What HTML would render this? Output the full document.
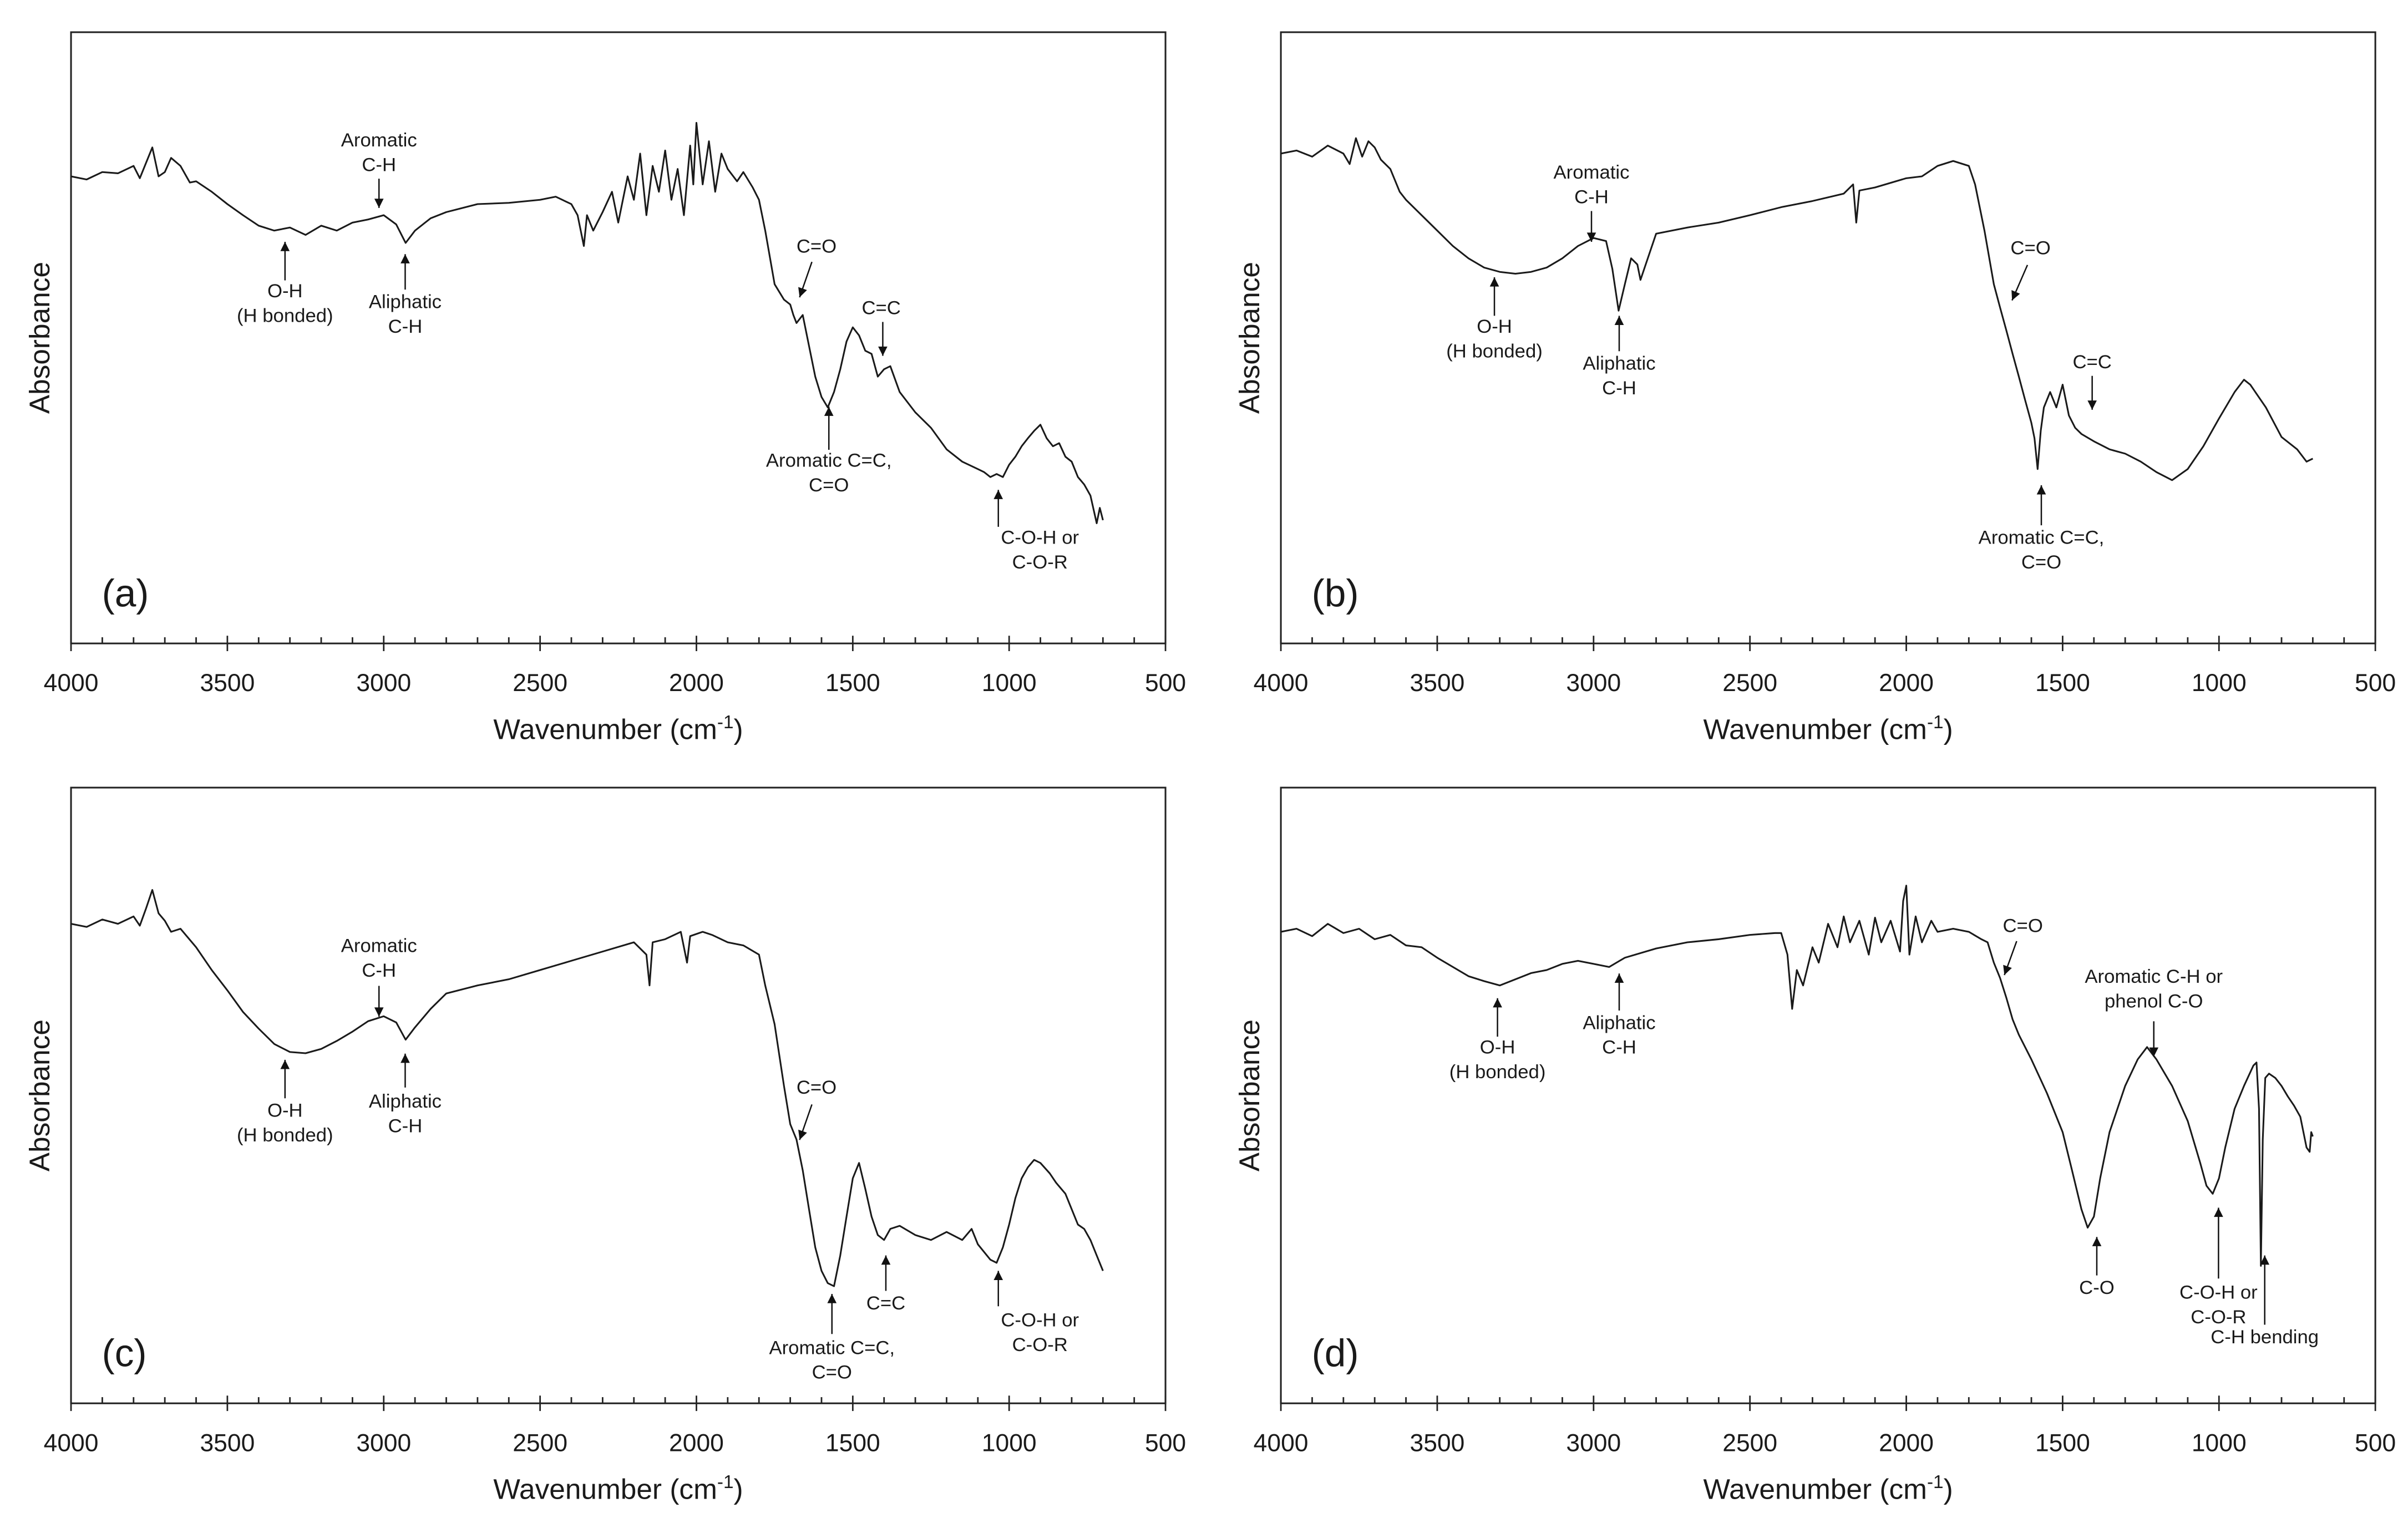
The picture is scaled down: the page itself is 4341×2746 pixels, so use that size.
<!DOCTYPE html>
<html><head><meta charset="utf-8">
<style>
html,body{margin:0;padding:0;background:#fff;}
svg{display:block;}
text{font-family:"Liberation Sans",Arial,sans-serif;fill:#1a1a1a;}
</style></head>
<body>
<svg id="fig" width="4341" height="2746" viewBox="0 0 1563 988.7" preserveAspectRatio="none" xmlns="http://www.w3.org/2000/svg"></svg>
<script>
// ---- data (wavenumber cm-1, absorbance a.u.) ----
const xTicks = [4000,3500,3000,2500,2000,1500,1000,500];
const aWn = [4000,3950,3900,3850,3800,3780,3760,3740,3720,3700,3680,3650,3620,3600,3550,3500,3450,3400,3350,3300,3250,3200,3150,3100,3050,3000,2960,2930,2900,2850,2800,2700,2600,2500,2450,2400,2380,2360,2350,2330,2300,2270,2250,2220,2200,2180,2160,2140,2120,2100,2080,2060,2040,2020,2010,2000,1980,1960,1940,1920,1900,1870,1850,1820,1800,1780,1750,1720,1700,1690,1680,1660,1640,1620,1600,1580,1560,1540,1520,1500,1480,1460,1440,1420,1400,1380,1350,1300,1250,1200,1150,1100,1080,1060,1040,1020,1000,980,960,940,920,900,880,860,840,820,800,780,760,740,720,710,700];
const aAbs = [75.8,75.3,76.5,76.3,77.5,75.5,78,80.5,75.8,76.5,78.8,77.5,74.8,75,73.3,71.3,69.5,67.8,67,67.5,66.3,67.8,67,68.3,68.8,69.5,68,65,67,69,70,71.3,71.5,72,72.5,71.3,69.5,64.5,69.5,67,70,73.3,68.3,75.8,72,79.5,69.5,77.5,73.3,80,72,77,69.5,80.8,74.5,84.5,74.5,81.5,73.3,79.5,77,75,76.5,74,72,67,58.3,55.8,55,53.3,52,53.3,48.3,43.3,40,38.3,40.8,44.5,49,51.3,50,47.5,47,43.3,44.5,45,40.8,37.5,35,31.5,29.5,28.3,27.8,27,27.5,27,29,30.3,32,33.3,34.5,35.5,33.3,32,32.5,30.3,29.5,27,25.8,24,19.5,22,20];
const bWn = [4000,3950,3900,3850,3800,3780,3760,3740,3720,3700,3680,3650,3620,3600,3550,3500,3450,3400,3350,3300,3250,3200,3150,3100,3050,3000,2960,2940,2920,2900,2880,2860,2850,2830,2800,2700,2600,2500,2400,2300,2200,2170,2160,2150,2100,2000,1950,1900,1850,1800,1780,1750,1720,1700,1680,1660,1640,1620,1600,1590,1580,1570,1560,1540,1520,1500,1480,1460,1440,1400,1350,1300,1250,1200,1150,1100,1050,1000,950,920,900,850,800,750,720,700];
const bAbs = [79.5,80,79,80.8,79.5,77.8,82,79,81.5,80.5,78.5,77,73.3,72,69.5,67,64.5,62.5,61,60.3,60,60.3,61,62.5,64.5,65.8,65.3,60.8,54,58.3,62.5,61.5,59,62,66.5,67.5,68.3,69.5,70.8,71.8,73,74.5,68.3,73.5,74,75.5,75.8,77.5,78.3,77.5,74.5,67,58.3,54.5,50.8,47,43.3,39.5,35.8,33.3,28.3,34.5,38.3,40.8,38.3,42,37,35,34,32.8,31.5,30.8,29.5,27.8,26.5,28.3,32,36.5,40.8,42.8,42,38.3,33.5,31.5,29.5,30];
const cWn = [4000,3950,3900,3850,3800,3780,3760,3740,3720,3700,3680,3650,3600,3550,3500,3450,3400,3350,3300,3250,3200,3150,3100,3050,3000,2960,2930,2900,2850,2800,2700,2600,2500,2400,2300,2200,2160,2150,2140,2100,2050,2030,2020,1980,1950,1900,1850,1800,1780,1750,1720,1700,1680,1660,1640,1620,1600,1580,1560,1540,1520,1500,1480,1460,1440,1420,1400,1380,1350,1300,1250,1200,1150,1120,1100,1060,1040,1020,1000,980,960,940,920,900,870,850,820,800,780,760,740,720,700];
const cAbs = [77.8,77.3,78.5,77.8,79,77.5,80.3,83.3,79.5,78.3,76.5,77,74,70.3,67,63.5,60.8,58.3,57,56.8,57.5,58.8,60.3,62,62.8,61.8,59,61,64,66.5,67.8,68.8,70.3,71.8,73.3,74.8,72.8,67.8,74.8,75.3,76.5,71.5,75.8,76.5,76,74.8,74.3,72.8,67.8,61.5,51.5,45.3,42.8,37.8,31.5,25.3,21.5,19.5,19,24,30.3,36.5,39,34.8,30.3,27.3,26.5,28.3,28.8,27.3,26.5,27.8,26.5,28.3,25.8,23.3,22.8,25.3,29,33.3,36.5,38.3,39.5,39,37.3,35.8,34,31.5,29,28.3,26.5,24,21.5];
const dWn = [4000,3950,3900,3850,3800,3750,3700,3650,3600,3550,3500,3450,3400,3350,3300,3250,3200,3150,3100,3050,3000,2950,2900,2800,2700,2600,2500,2420,2400,2380,2365,2350,2330,2300,2280,2250,2220,2200,2180,2150,2120,2100,2080,2050,2020,2010,2000,1990,1970,1950,1920,1900,1850,1800,1760,1740,1720,1700,1680,1660,1640,1600,1550,1500,1470,1440,1420,1400,1380,1350,1300,1260,1230,1200,1150,1100,1060,1040,1020,1000,980,950,920,890,880,872,866,860,852,840,820,800,780,760,740,720,710,705,700];
const dAbs = [76.5,77,75.8,77.8,76.3,77,75.3,76,74.3,74,72.3,70.8,69.3,68.5,67.8,68.8,69.8,70.3,71.3,71.8,71.3,70.8,72.3,73.8,74.8,75.3,76,76.3,76.3,72.8,64,70.3,67.8,74,71.5,77.8,74,79,74.8,78.3,72.8,78.8,74.8,78.3,73.3,81.5,84,72.8,79,74.8,78.3,76.5,77,76.5,75.3,74.8,71.5,69,65.8,62.3,59.8,55.8,50.3,44,37.8,31.5,28.5,30.3,36.5,44,51.5,55.8,57.8,55.8,51.5,45.8,39,35.3,34,36.5,41.5,47.8,51.5,54.8,55.3,47.8,22.3,42.8,52.8,53.5,52.8,51.5,49.8,48.3,46.5,41.5,40.8,44,43.3];

const NS='http://www.w3.org/2000/svg';
const svg=document.getElementById('fig');
function mk(tag,attrs,parent){const e=document.createElementNS(NS,tag);for(const k in attrs)e.setAttribute(k,attrs[k]);(parent||svg).appendChild(e);return e;}

const panels=[
 {id:'a',wn:aWn,ab:aAbs,L:46.1,R:756.5,T:20.9,B:417.7,ymax:99.2,lab:'(a)',
  ann:[{t:['Aromatic','C-H'],x:246,y:95,ax:246,y1:116,x2:246,y2:135},
       {t:['O-H','(H bonded)'],x:185,y:193,ax:185,y1:182,x2:185,y2:157},
       {t:['Aliphatic','C-H'],x:263,y:200,ax:263,y1:188,x2:263,y2:165},
       {t:['C=O'],x:530,y:164,ax:527,y1:170,x2:519,y2:193},
       {t:['C=C'],x:572,y:204,ax:573,y1:209,x2:573,y2:231},
       {t:['Aromatic C=C,','C=O'],x:538,y:303,ax:538,y1:292,x2:538,y2:264},
       {t:['C-O-H or','C-O-R'],x:675,y:353,ax:648,y1:342,x2:648,y2:318}]},
 {id:'b',wn:bWn,ab:bAbs,L:831.4,R:1541.8,T:20.9,B:417.7,ymax:99.2,lab:'(b)',
  ann:[{t:['Aromatic','C-H'],x:1033,y:116,ax:1033,y1:137,x2:1033,y2:157},
       {t:['O-H','(H bonded)'],x:970,y:216,ax:970,y1:205,x2:970,y2:180},
       {t:['Aliphatic','C-H'],x:1051,y:240,ax:1051,y1:228,x2:1051,y2:205},
       {t:['C=O'],x:1318,y:165,ax:1316,y1:172,x2:1306,y2:195},
       {t:['C=C'],x:1358,y:239,ax:1358,y1:244,x2:1358,y2:266},
       {t:['Aromatic C=C,','C=O'],x:1325,y:353,ax:1325,y1:341,x2:1325,y2:315}]},
 {id:'c',wn:cWn,ab:cAbs,L:46.1,R:756.5,T:511.3,B:911,ymax:99.9,lab:'(c)',
  ann:[{t:['Aromatic','C-H'],x:246,y:618,ax:246,y1:640,x2:246,y2:660},
       {t:['O-H','(H bonded)'],x:185,y:725,ax:185,y1:713,x2:185,y2:688},
       {t:['Aliphatic','C-H'],x:263,y:719,ax:263,y1:706,x2:263,y2:684},
       {t:['C=O'],x:530,y:710,ax:527,y1:717,x2:519,y2:740},
       {t:['Aromatic C=C,','C=O'],x:540,y:879,ax:540,y1:866,x2:540,y2:840},
       {t:['C=C'],x:575,y:850,ax:575,y1:838,x2:575,y2:815},
       {t:['C-O-H or','C-O-R'],x:675,y:861,ax:648,y1:848,x2:648,y2:825}]},
 {id:'d',wn:dWn,ab:dAbs,L:831.4,R:1541.8,T:511.3,B:911,ymax:99.9,lab:'(d)',
  ann:[{t:['O-H','(H bonded)'],x:972,y:684,ax:972,y1:673,x2:972,y2:648},
       {t:['Aliphatic','C-H'],x:1051,y:668,ax:1051,y1:656,x2:1051,y2:632},
       {t:['C=O'],x:1313,y:605,ax:1309,y1:611,x2:1301,y2:633},
       {t:['Aromatic C-H or','phenol C-O'],x:1398,y:638,ax:1398,y1:663,x2:1398,y2:686},
       {t:['C-O'],x:1361,y:840,ax:1361,y1:828,x2:1361,y2:803},
       {t:['C-O-H or','C-O-R'],x:1440,y:843,ax:1440,y1:830,x2:1440,y2:784},
       {t:['C-H bending'],x:1470,y:872,ax:1470,y1:860,x2:1470,y2:815}]}
];

panels.forEach(p=>{
  const g=mk('g',{});
  
  
  const xs=w=>p.L+(4000-w)*(p.R-p.L)/3500;
  const ys=v=>p.B-v*(p.B-p.T)/p.ymax;
  const fr=mk('rect',{x:p.L,y:p.T,width:p.R-p.L,height:p.B-p.T,fill:'none',stroke:'#222','stroke-width':1.1},g);
  
  
  for(let w=4000;w>=500;w-=100){
    const major=w%500===0;
    const t=mk('line',{x1:xs(w),x2:xs(w),y1:p.B-(major?5:4),y2:p.B+(major?5:0),stroke:'#222','stroke-width':1},g);
    
    
  }
  xTicks.forEach(w=>{
    const t=mk('text',{x:xs(w),y:p.B+31,'text-anchor':'middle','font-size':16},g);
    t.textContent=w;
    
    
  });
  const xt=mk('text',{x:(p.L+p.R)/2,y:p.B+62,'text-anchor':'middle','font-size':18.5},g);
  xt.innerHTML='Wavenumber (cm<tspan dy="-7" font-size="12">-1</tspan><tspan dy="7">)</tspan>';
  
  
  const yx=p.L-14, yy=(p.T+p.B)/2;
  const yt=mk('text',{x:yx,y:yy,'text-anchor':'middle','font-size':18.5,transform:'rotate(-90 '+yx+' '+yy+')'},g);
  yt.textContent='Absorbance';
  
  
  const pl=mk('text',{x:p.L+20,y:p.B-24,'font-size':25},g);
  pl.textContent=p.lab;
  
  
  let d='';
  p.wn.forEach((w,i)=>{d+=(i?'L':'M')+xs(w).toFixed(2)+' '+ys(p.ab[i]).toFixed(2);});
  const ln=mk('path',{d:d,fill:'none',stroke:'#1a1a1a','stroke-width':1.1,'stroke-linejoin':'round'},g);
  
  
  p.ann.forEach(a=>{
    const ag=mk('g',{},g);
    
    
    a.t.forEach((s,k)=>{
      const tx=mk('text',{x:a.x,y:a.y+k*16,'text-anchor':'middle','font-size':12.5},ag);
      tx.textContent=s;
    });
    mk('line',{x1:a.ax,y1:a.y1,x2:a.x2,y2:a.y2,stroke:'#111','stroke-width':0.9},ag);
    const ang=Math.atan2(a.y2-a.y1,a.x2-a.ax), L=6, W=3;
    const bx=a.x2-L*Math.cos(ang), by=a.y2-L*Math.sin(ang);
    const px=-Math.sin(ang)*W, py=Math.cos(ang)*W;
    mk('polygon',{points:`${a.x2},${a.y2} ${bx+px},${by+py} ${bx-px},${by-py}`,fill:'#111'},ag);
  });
});
</script>
</body></html>
